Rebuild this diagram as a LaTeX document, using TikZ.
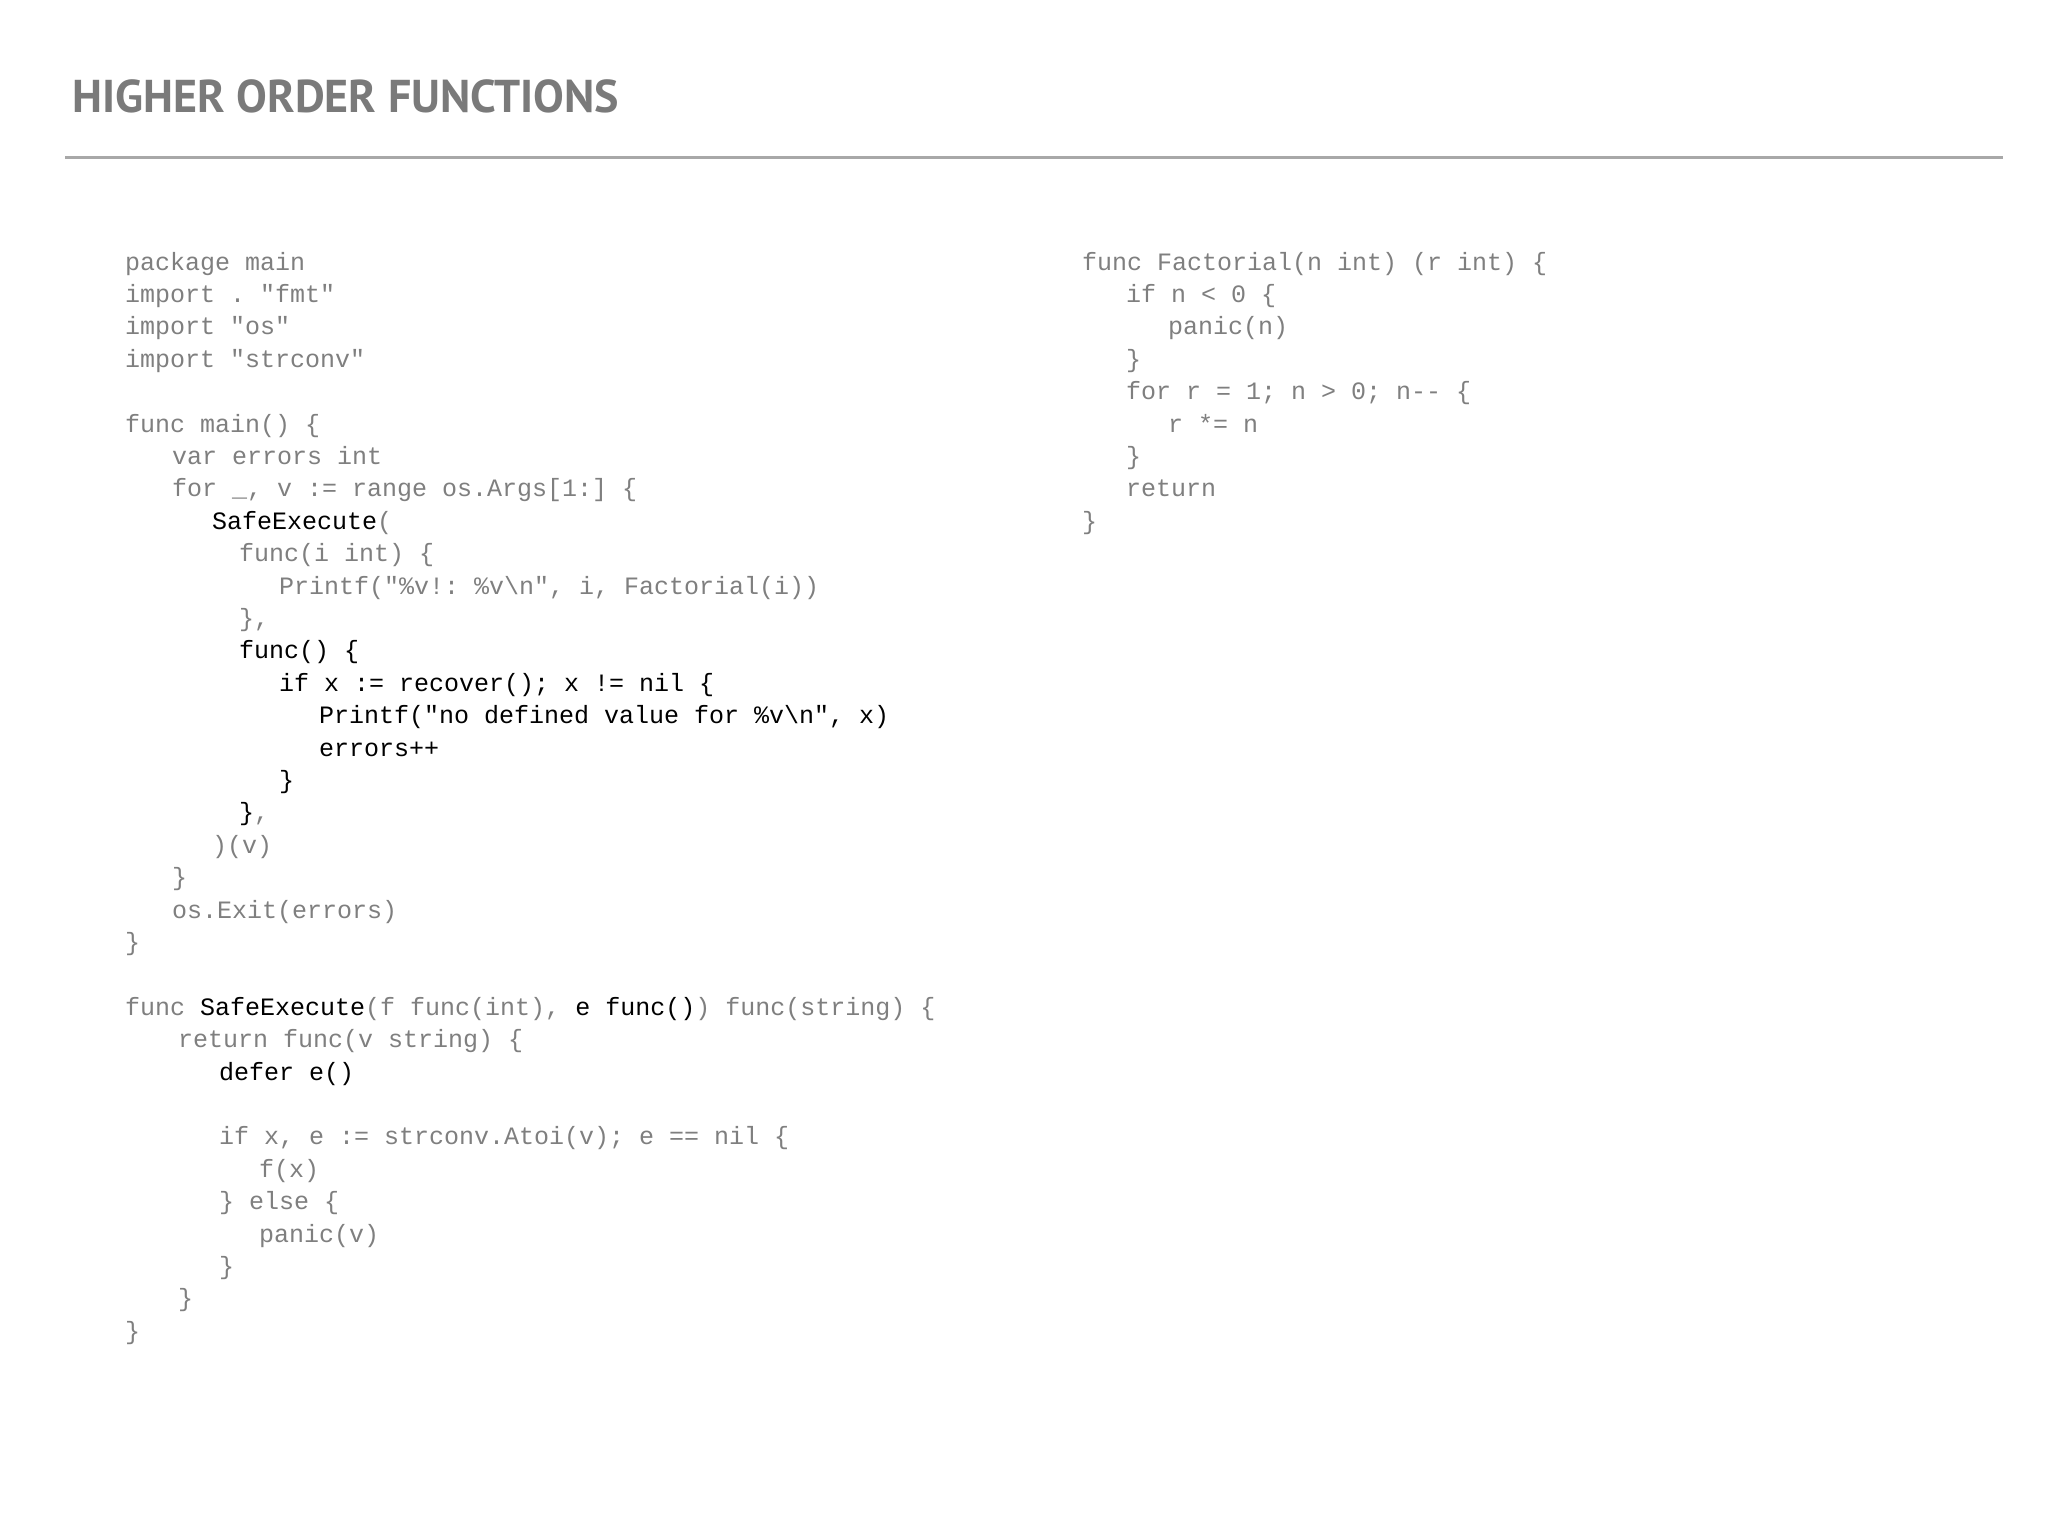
\documentclass[tikz,border=0pt]{standalone}
\usepackage{fontspec}
\setmonofont{Liberation Mono}
\setsansfont{PT Sans}
\definecolor{codegray}{HTML}{7F7F7F}
\definecolor{titlegray}{HTML}{7A7A7A}
\definecolor{rulegray}{HTML}{A8A8A8}
\newcommand{\K}[1]{\textcolor{black}{#1}}
\begin{document}
\begin{tikzpicture}[x=1pt,y=-1pt,
  code/.style={anchor=mid west,inner sep=0pt,font=\ttfamily\fontsize{25}{30}\selectfont,text=codegray},
  titletext/.style={anchor=mid west,inner sep=0pt,font=\sffamily\bfseries\fontsize{46}{50}\selectfont,text=titlegray}]
\useasboundingbox (0,0) rectangle (2048,1536);
\node[titletext] (title) at (72,110) {HIGHER ORDER FUNCTIONS};
\coordinate (ruleL) at (65,158);
\coordinate (ruleR) at (2003,158);
\draw[rulegray,line width=3pt] (ruleL) -- (ruleR);
\def\ly#1{268+32.4*#1}
\node[code] (l0) at (125,{\ly{0}}) {package main};
\node[code] (l1) at (125,{\ly{1}}) {import . "fmt"};
\node[code] (l2) at (125,{\ly{2}}) {import "os"};
\node[code] (l3) at (125,{\ly{3}}) {import "strconv"};
\node[code] (l5) at (125,{\ly{5}}) {func main() \{};
\node[code] (l6) at (172,{\ly{6}}) {var errors int};
\node[code] (l7) at (172,{\ly{7}}) {for \_, v := range os.Args[1:] \{};
\node[code] (l8) at (212,{\ly{8}}) {\K{SafeExecute}(};
\node[code] (l9) at (239,{\ly{9}}) {func(i int) \{};
\node[code] (l10) at (279,{\ly{10}}) {Printf("\%v!: \%v\textbackslash n", i, Factorial(i))};
\node[code] (l11) at (239,{\ly{11}}) {\},};
\node[code] (l12) at (239,{\ly{12}}) {\K{func() \{}};
\node[code] (l13) at (279,{\ly{13}}) {\K{if x := recover(); x != nil \{}};
\node[code] (l14) at (319,{\ly{14}}) {\K{Printf("no defined value for \%v\textbackslash n", x)}};
\node[code] (l15) at (319,{\ly{15}}) {\K{errors++}};
\node[code] (l16) at (279,{\ly{16}}) {\K{\}}};
\node[code] (l17) at (239,{\ly{17}}) {\K{\}},};
\node[code] (l18) at (212,{\ly{18}}) {)(v)};
\node[code] (l19) at (172,{\ly{19}}) {\}};
\node[code] (l20) at (172,{\ly{20}}) {os.Exit(errors)};
\node[code] (l21) at (125,{\ly{21}}) {\}};
\node[code] (l23) at (125,{\ly{23}}) {func \K{SafeExecute}(f func(int), \K{e func()}) func(string) \{};
\node[code] (l24) at (178,{\ly{24}}) {return func(v string) \{};
\node[code] (l25) at (219,{\ly{25}}) {\K{defer e()}};
\node[code] (l27) at (219,{\ly{27}}) {if x, e := strconv.Atoi(v); e == nil \{};
\node[code] (l28) at (259,{\ly{28}}) {f(x)};
\node[code] (l29) at (219,{\ly{29}}) {\} else \{};
\node[code] (l30) at (259,{\ly{30}}) {panic(v)};
\node[code] (l31) at (219,{\ly{31}}) {\}};
\node[code] (l32) at (178,{\ly{32}}) {\}};
\node[code] (l33) at (125,{\ly{33}}) {\}};
\node[code] (r0) at (1082,{\ly{0}}) {func Factorial(n int) (r int) \{};
\node[code] (r1) at (1126,{\ly{1}}) {if n < 0 \{};
\node[code] (r2) at (1168,{\ly{2}}) {panic(n)};
\node[code] (r3) at (1126,{\ly{3}}) {\}};
\node[code] (r4) at (1126,{\ly{4}}) {for r = 1; n > 0; n-{}- \{};
\node[code] (r5) at (1168,{\ly{5}}) {r *= n};
\node[code] (r6) at (1126,{\ly{6}}) {\}};
\node[code] (r7) at (1126,{\ly{7}}) {return};
\node[code] (r8) at (1082,{\ly{8}}) {\}};
\end{tikzpicture}
\end{document}
